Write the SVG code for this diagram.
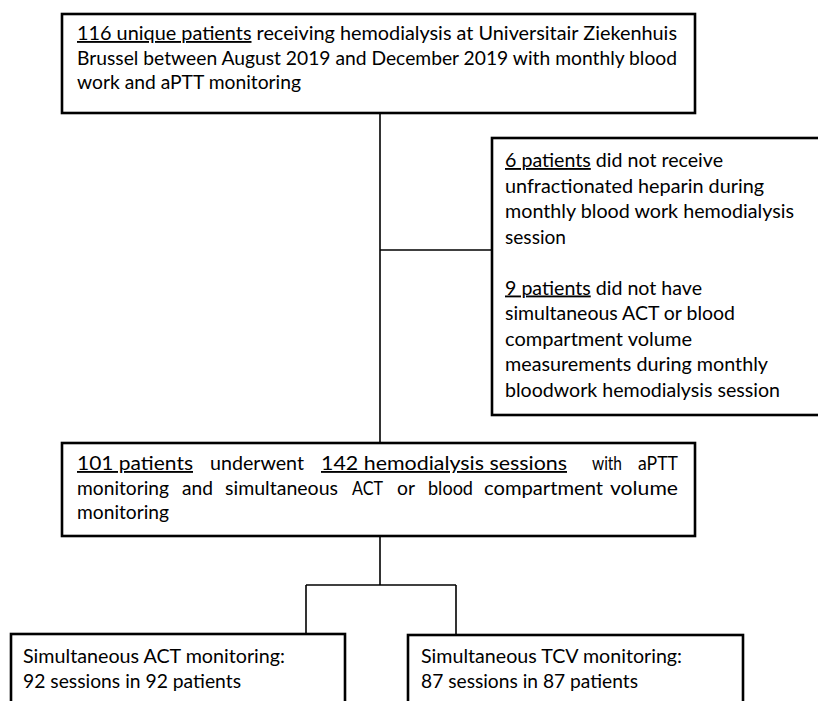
<svg xmlns="http://www.w3.org/2000/svg" width="818" height="701" viewBox="0 0 818 701">
<style>
.box{fill:#fff;stroke:#000;stroke-width:2.6}
.con{fill:none;stroke:#000;stroke-width:1.6}
text{font-family:Lato,"Liberation Sans",sans-serif;font-size:18.5px;fill:#000}
.u{text-decoration:underline}
</style>
<rect width="818" height="701" fill="#fff"/>
<g id="connectors">
<path class="con" d="M380 113V443"/>
<path class="con" d="M380 250H492"/>
<path class="con" d="M380 536V585"/>
<path class="con" d="M306 585H456"/>
<path class="con" d="M306 585V634"/>
<path class="con" d="M456 585V635"/>
</g>
<g id="node-start">
<rect class="box" x="62" y="14" width="633" height="99"/>
<text x="77" y="40" textLength="600" lengthAdjust="spacingAndGlyphs"><tspan class="u">116 unique patients</tspan> receiving hemodialysis at Universitair Ziekenhuis</text>
<text x="77" y="64.5" textLength="600" lengthAdjust="spacingAndGlyphs">Brussel between August 2019 and December 2019 with monthly blood</text>
<text x="77" y="89" textLength="224" lengthAdjust="spacingAndGlyphs">work and aPTT monitoring</text>
</g>
<g id="node-excluded">
<rect class="box" x="492" y="138" width="340" height="277"/>
<text x="505" y="167" textLength="218" lengthAdjust="spacingAndGlyphs"><tspan class="u">6 patients</tspan> did not receive</text>
<text x="505" y="192.5" textLength="259" lengthAdjust="spacingAndGlyphs">unfractionated heparin during</text>
<text x="505" y="218" textLength="289" lengthAdjust="spacingAndGlyphs">monthly blood work hemodialysis</text>
<text x="505" y="243.5" textLength="61" lengthAdjust="spacingAndGlyphs">session</text>
<text x="505" y="294.5" textLength="197" lengthAdjust="spacingAndGlyphs"><tspan class="u">9 patients</tspan> did not have</text>
<text x="505" y="320" textLength="230" lengthAdjust="spacingAndGlyphs">simultaneous ACT or blood</text>
<text x="505" y="345.5" textLength="187" lengthAdjust="spacingAndGlyphs">compartment volume</text>
<text x="505" y="371" textLength="263" lengthAdjust="spacingAndGlyphs">measurements during monthly</text>
<text x="505" y="396.5" textLength="275" lengthAdjust="spacingAndGlyphs">bloodwork hemodialysis session</text>
</g>
<g id="node-included">
<rect class="box" x="62" y="443" width="633" height="93"/>
<text y="470"><tspan class="u" x="77" textLength="116" lengthAdjust="spacingAndGlyphs">101 patients</tspan><tspan x="210" textLength="94" lengthAdjust="spacingAndGlyphs">underwent</tspan><tspan class="u" x="321" textLength="246" lengthAdjust="spacingAndGlyphs">142 hemodialysis sessions</tspan><tspan x="592" textLength="30" lengthAdjust="spacingAndGlyphs">with</tspan><tspan x="638" textLength="40" lengthAdjust="spacingAndGlyphs">aPTT</tspan></text>
<text y="494.5"><tspan x="77" textLength="92" lengthAdjust="spacingAndGlyphs">monitoring</tspan><tspan x="182" textLength="31" lengthAdjust="spacingAndGlyphs">and</tspan><tspan x="225" textLength="113" lengthAdjust="spacingAndGlyphs">simultaneous</tspan><tspan x="352" textLength="31" lengthAdjust="spacingAndGlyphs">ACT</tspan><tspan x="397" textLength="18" lengthAdjust="spacingAndGlyphs">or</tspan><tspan x="428" textLength="45" lengthAdjust="spacingAndGlyphs">blood</tspan><tspan x="484" textLength="119" lengthAdjust="spacingAndGlyphs">compartment</tspan><tspan x="610" textLength="68" lengthAdjust="spacingAndGlyphs">volume</tspan></text>
<text x="77" y="519" textLength="92" lengthAdjust="spacingAndGlyphs">monitoring</text>
</g>
<g id="node-act">
<rect class="box" x="11" y="634" width="334" height="80"/>
<text x="23" y="663" textLength="262" lengthAdjust="spacingAndGlyphs">Simultaneous ACT monitoring:</text>
<text x="23" y="688" textLength="218" lengthAdjust="spacingAndGlyphs">92 sessions in 92 patients</text>
</g>
<g id="node-tcv">
<rect class="box" x="408" y="635" width="335" height="80"/>
<text x="421" y="663" textLength="261" lengthAdjust="spacingAndGlyphs">Simultaneous TCV monitoring:</text>
<text x="421" y="688" textLength="217" lengthAdjust="spacingAndGlyphs">87 sessions in 87 patients</text>
</g>
</svg>
